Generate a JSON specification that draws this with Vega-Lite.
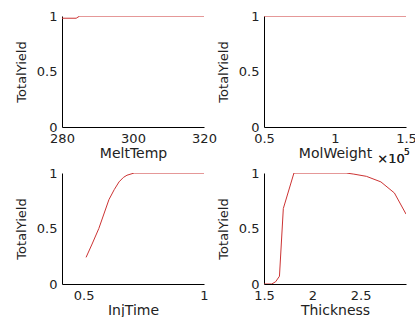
{
  "$schema": "https://vega.github.io/schema/vega-lite/v6.json",
  "background": "white",
  "padding": {"left": 15, "top": 10, "right": 0, "bottom": 0},
  "config": {
    "view": {"stroke": null},
    "font": "DejaVu Sans",
    "axis": {
      "grid": false,
      "ticks": false,
      "domainColor": "#000000",
      "domainWidth": 1,
      "labelFont": "DejaVu Sans",
      "labelFontSize": 13,
      "labelColor": "#222222",
      "titleFont": "DejaVu Sans",
      "titleFontWeight": "normal",
      "titleColor": "#222222",
      "labelFlush": false,
      "labelOverlap": false
    },
    "axisX": {"labelPadding": 5, "titleFontSize": 14, "titlePadding": 1},
    "axisY": {"labelPadding": 5, "titleFontSize": 13, "titlePadding": 8},
    "line": {"color": "#cc3333", "strokeWidth": 1}
  },
  "datasets": {
    "melt": [
      {"x": 280, "y": 0.98}, {"x": 284, "y": 0.98}, {"x": 285, "y": 1.0}, {"x": 320, "y": 1.0}
    ],
    "mol": [
      {"x": 0.5, "y": 1.0}, {"x": 1.5, "y": 1.0}
    ],
    "inj": [
      {"x": 0.51, "y": 0.24}, {"x": 0.535, "y": 0.36}, {"x": 0.563, "y": 0.5}, {"x": 0.605, "y": 0.76},
      {"x": 0.627, "y": 0.85}, {"x": 0.647, "y": 0.92}, {"x": 0.665, "y": 0.96}, {"x": 0.68, "y": 0.98},
      {"x": 0.71, "y": 1.0}, {"x": 1.0, "y": 1.0}
    ],
    "thick": [
      {"x": 1.5, "y": 0.0}, {"x": 1.58, "y": 0.0}, {"x": 1.62, "y": 0.02}, {"x": 1.66, "y": 0.07},
      {"x": 1.70, "y": 0.68}, {"x": 1.81, "y": 1.0}, {"x": 2.35, "y": 1.0}, {"x": 2.43, "y": 0.99},
      {"x": 2.56, "y": 0.97}, {"x": 2.71, "y": 0.92}, {"x": 2.85, "y": 0.82}, {"x": 2.97, "y": 0.63}
    ]
  },
  "columns": 2,
  "spacing": {"row": 46, "column": 60},
  "bounds": "flush",
  "concat": [
    {
      "width": 142, "height": 111,
      "data": {"name": "melt"},
      "mark": {"type": "line", "clip": true},
      "encoding": {
        "x": {"field": "x", "type": "quantitative", "title": "MeltTemp",
              "scale": {"domain": [280, 320], "nice": false, "zero": false},
              "axis": {"values": [280, 300, 320]}},
        "y": {"field": "y", "type": "quantitative", "title": "TotalYield",
              "scale": {"domain": [0, 1], "nice": false},
              "axis": {"values": [0, 0.5, 1], "format": "~g"}}
      }
    },
    {
      "width": 142, "height": 111,
      "data": {"name": "mol"},
      "layer": [
        {
          "mark": {"type": "line", "clip": true},
          "encoding": {
            "x": {"field": "x", "type": "quantitative", "title": "MolWeight",
                  "scale": {"domain": [0.5, 1.5], "nice": false, "zero": false},
                  "axis": {"values": [0.5, 1, 1.5], "format": "~g"}},
            "y": {"field": "y", "type": "quantitative", "title": "TotalYield",
                  "scale": {"domain": [0, 1], "nice": false},
                  "axis": {"values": [0, 0.5, 1], "format": "~g"}}
          }
        },
        {
          "mark": {"type": "text", "text": "×10", "fontSize": 13, "font": "DejaVu Sans", "color": "#222222", "dx": -15, "dy": 32, "align": "center"},
          "encoding": {"x": {"datum": 1.5}, "y": {"datum": 0}}
        },
        {
          "mark": {"type": "text", "text": "5", "fontSize": 9, "font": "DejaVu Sans", "color": "#222222", "dx": -2, "dy": 25, "align": "left"},
          "encoding": {"x": {"datum": 1.5}, "y": {"datum": 0}}
        }
      ]
    },
    {
      "width": 142, "height": 111,
      "data": {"name": "inj"},
      "mark": {"type": "line", "clip": true},
      "encoding": {
        "x": {"field": "x", "type": "quantitative", "title": "InjTime",
              "scale": {"domain": [0.41, 1.0], "nice": false, "zero": false},
              "axis": {"values": [0.5, 1], "format": "~g"}},
        "y": {"field": "y", "type": "quantitative", "title": "TotalYield",
              "scale": {"domain": [0, 1], "nice": false},
              "axis": {"values": [0, 0.5, 1], "format": "~g"}}
      }
    },
    {
      "width": 142, "height": 111,
      "data": {"name": "thick"},
      "mark": {"type": "line", "clip": true},
      "encoding": {
        "x": {"field": "x", "type": "quantitative", "title": "Thickness",
              "scale": {"domain": [1.5, 2.97], "nice": false, "zero": false},
              "axis": {"values": [1.5, 2, 2.5], "format": "~g"}},
        "y": {"field": "y", "type": "quantitative", "title": "TotalYield",
              "scale": {"domain": [0, 1], "nice": false},
              "axis": {"values": [0, 0.5, 1], "format": "~g"}}
      }
    }
  ]
}
